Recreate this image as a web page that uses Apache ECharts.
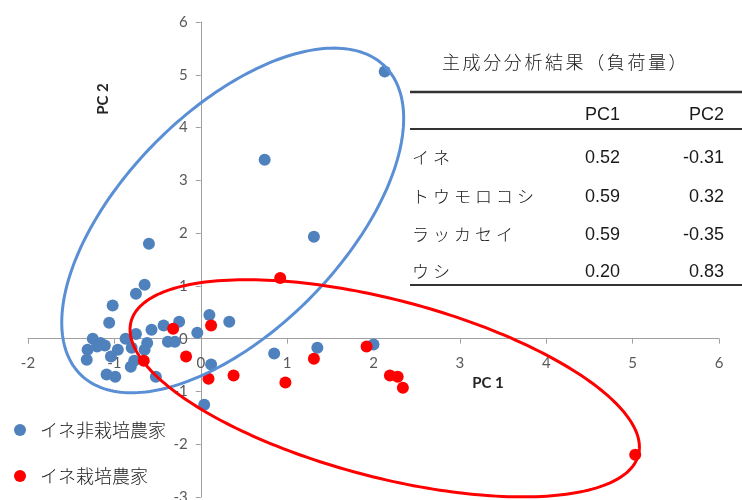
<!DOCTYPE html>
<html>
<head>
<meta charset="utf-8">
<title>主成分分析</title>
<style>
  html, body { margin: 0; padding: 0; background: #ffffff; }
  #chart { width: 742px; height: 500px; }
</style>
<script src="https://cdn.jsdelivr.net/npm/echarts@6/dist/echarts.min.js"></script>
</head>
<body>
<div id="chart"></div>
<script>
// Farm groups shown in the legend
const seriesNames = ['イネ非栽培農家', 'イネ栽培農家'];

// PC scores [PC1, PC2] of farms that do not grow rice
const nonRiceFarms = [
  [-0.60, 1.80], [0.74, 3.39], [1.31, 1.93], [2.13, 5.06],
  [-0.65, 1.02], [-0.75, 0.85], [-1.02, 0.63], [-1.06, 0.30],
  [0.10, 0.45], [0.33, 0.32], [-0.25, 0.32], [-0.43, 0.25],
  [-0.57, 0.17], [-0.75, 0.09], [-0.87, 0.00], [-0.04, 0.11],
  [-0.38, -0.06], [-0.30, -0.06], [-1.25, 0.00], [-1.16, -0.08],
  [-1.20, -0.15], [-1.31, -0.21], [-1.11, -0.13], [-0.96, -0.21],
  [-0.62, -0.08], [-0.65, -0.21], [-0.80, -0.17], [-1.04, -0.34],
  [-1.32, -0.40], [-0.81, -0.53], [-0.77, -0.42], [0.12, -0.49],
  [-1.09, -0.68], [-0.99, -0.72], [-0.52, -0.72], [0.04, -1.25],
  [0.85, -0.28], [1.35, -0.17], [2.00, -0.11]
];

// PC scores [PC1, PC2] of rice-growing farms
const riceFarms = [
  [0.92, 1.15], [-0.32, 0.19], [0.12, 0.25], [-0.17, -0.34],
  [-0.66, -0.42], [0.09, -0.76], [0.38, -0.70], [0.98, -0.83],
  [1.31, -0.38], [1.92, -0.15], [2.19, -0.70], [2.28, -0.72],
  [2.34, -0.93], [5.03, -2.20]
];

// Axis ranges (ticks every 1)
const xRange = [-2, 6];
const yRange = [-3, 6];
const axisTitles = ['PC 1', 'PC 2'];

// Group ellipses in PC units: [centre PC1, centre PC2, semi-major, semi-minor, tilt in degrees]
const nonRiceRing = [0.37, 2.24, 3.52, 1.48, 65.7];
const riceRing = [2.13, -0.94, 3.23, 1.58, -27.9];

// Loadings table
const loadingTitle = '主成分分析結果（負荷量）';
const loadingHeads = ['PC1', 'PC2'];
const loadingVars = ['イネ', 'トウモロコシ', 'ラッカセイ', 'ウシ'];
const pc1Loadings = [0.52, 0.59, 0.59, 0.20];
const pc2Loadings = [-0.31, 0.32, -0.35, 0.83];

const BLUE = '#4F81BD';
const RED = '#FF0000';
const RING_BLUE = '#5A8FD5';
const JP = '"Noto Sans CJK JP", "Noto Sans", sans-serif';
const NUM = '"Liberation Sans", Arial, sans-serif';
const AXIS_FONT = 'Lato, "Open Sans", sans-serif';

const chart = echarts.init(document.getElementById('chart'), null, { renderer: 'canvas' });

// Ellipse outline traced in data space and projected with the axes
function ringRenderer(color) {
  return function (params, api) {
    const cx = api.value(0), cy = api.value(1);
    const a = api.value(2), b = api.value(3);
    const ang = api.value(4) * Math.PI / 180;
    const ca = Math.cos(ang), sa = Math.sin(ang);
    const pts = [];
    const n = 240;
    for (let i = 0; i < n; i++) {
      const t = (i / n) * Math.PI * 2;
      const u = a * Math.cos(t), v = b * Math.sin(t);
      pts.push(api.coord([cx + u * ca - v * sa, cy + u * sa + v * ca]));
    }
    return {
      type: 'polygon',
      shape: { points: pts },
      style: { fill: 'none', stroke: color, lineWidth: 3 }
    };
  };
}

// Text laid out one character per fixed-width cell
function spacedText(str, firstCenterX, y, step, style) {
  return Array.from(str).map((ch, i) => ({
    type: 'text',
    x: firstCenterX + i * step,
    y: y,
    silent: true,
    style: Object.assign({ text: ch, textAlign: 'center', textVerticalAlign: 'middle' }, style)
  }));
}

const jpStyle = { fontFamily: JP, fontSize: 17, fontWeight: 300, fill: '#1a1a1a' };
const numStyle = { fontFamily: NUM, fontSize: 18, fill: '#1a1a1a' };
const ruleStyle = { stroke: '#333333', lineWidth: 2 };

const rowY = [158, 197, 235, 272];
const colRight = [620, 724];

const graphic = [];
graphic.push(...spacedText(loadingTitle, 451, 62, 20.6, { fontFamily: JP, fontSize: 18, fontWeight: 300, fill: '#1a1a1a' }));
graphic.push({ type: 'line', silent: true, shape: { x1: 410, y1: 92, x2: 742, y2: 92 }, style: { stroke: '#333333', lineWidth: 2.5 } });
graphic.push({ type: 'line', silent: true, shape: { x1: 410, y1: 129, x2: 742, y2: 129 }, style: ruleStyle });
graphic.push({ type: 'line', silent: true, shape: { x1: 410, y1: 285, x2: 742, y2: 285 }, style: ruleStyle });
loadingHeads.forEach((h, i) => {
  graphic.push({ type: 'text', silent: true, x: colRight[i], y: 115,
    style: Object.assign({ text: h, textAlign: 'right', textVerticalAlign: 'middle' }, numStyle) });
});
loadingVars.forEach((name, r) => {
  graphic.push(...spacedText(name, 420.5, rowY[r], 21, jpStyle));
  [pc1Loadings[r], pc2Loadings[r]].forEach((v, c) => {
    graphic.push({ type: 'text', silent: true, x: colRight[c], y: rowY[r],
      style: Object.assign({ text: v.toFixed(2), textAlign: 'right', textVerticalAlign: 'middle' }, numStyle) });
  });
});

// Axis titles
const axisTitleStyle = { fontFamily: AXIS_FONT, fontSize: 15, fontWeight: 'bold', fill: '#262626', textAlign: 'center', textVerticalAlign: 'middle' };
graphic.push({ type: 'text', silent: true, x: 488, y: 383, style: Object.assign({ text: axisTitles[0] }, axisTitleStyle) });
graphic.push({ type: 'text', silent: true, x: 103, y: 99, rotation: Math.PI / 2, style: Object.assign({ text: axisTitles[1] }, axisTitleStyle) });

const axisCommon = {
  type: 'value',
  interval: 1,
  splitLine: { show: false },
  axisLine: { show: true, onZero: false, lineStyle: { color: '#A0A0A0', width: 1 } },
  axisTick: { show: true, inside: false, length: 5, lineStyle: { color: '#A0A0A0' } },
  axisLabel: { fontFamily: AXIS_FONT, fontSize: 15, color: '#595959' }
};

chart.setOption({
  animation: false,
  backgroundColor: '#ffffff',
  grid: { left: 28, right: 23, top: 22, bottom: 3, containLabel: false, outerBoundsMode: 'none' },
  xAxis: Object.assign({}, axisCommon, {
    position: 'bottom',
    min: xRange[0], max: xRange[1],
    axisLabel: Object.assign({}, axisCommon.axisLabel, { margin: 17 })
  }),
  yAxis: Object.assign({}, axisCommon, {
    position: 'left',
    min: yRange[0], max: yRange[1],
    axisLabel: Object.assign({}, axisCommon.axisLabel, { margin: 13 })
  }),
  legend: {
    data: seriesNames,
    orient: 'vertical',
    left: 9,
    top: 415,
    icon: 'circle',
    itemWidth: 12,
    itemHeight: 12,
    itemGap: 26,
    selectedMode: false,
    textStyle: { fontFamily: JP, fontSize: 18, fontWeight: 300, color: '#1a1a1a', lineHeight: 20, padding: [0, 0, 0, 9] }
  },
  graphic: graphic,
  series: [
    {
      name: seriesNames[0], type: 'scatter', data: nonRiceFarms,
      symbol: 'circle', symbolSize: 12, itemStyle: { color: BLUE, opacity: 1 }, z: 2
    },
    {
      name: seriesNames[1], type: 'scatter', data: riceFarms,
      symbol: 'circle', symbolSize: 12, itemStyle: { color: RED, opacity: 1 }, z: 3
    },
    {
      name: 'nonRiceRing', type: 'custom', data: [nonRiceRing], silent: true, z: 4,
      renderItem: ringRenderer(RING_BLUE)
    },
    {
      name: 'riceRing', type: 'custom', data: [riceRing], silent: true, z: 4,
      renderItem: ringRenderer(RED)
    }
  ]
});

// Move both axes (line, ticks and labels) so they cross at the origin
const origin = chart.convertToPixel({ gridIndex: 0 }, [0, 0]);
const corner = chart.convertToPixel({ gridIndex: 0 }, [xRange[0], yRange[0]]);
chart.setOption({
  xAxis: { offset: origin[1] - corner[1] },
  yAxis: { offset: corner[0] - origin[0] }
});
</script>
</body>
</html>
